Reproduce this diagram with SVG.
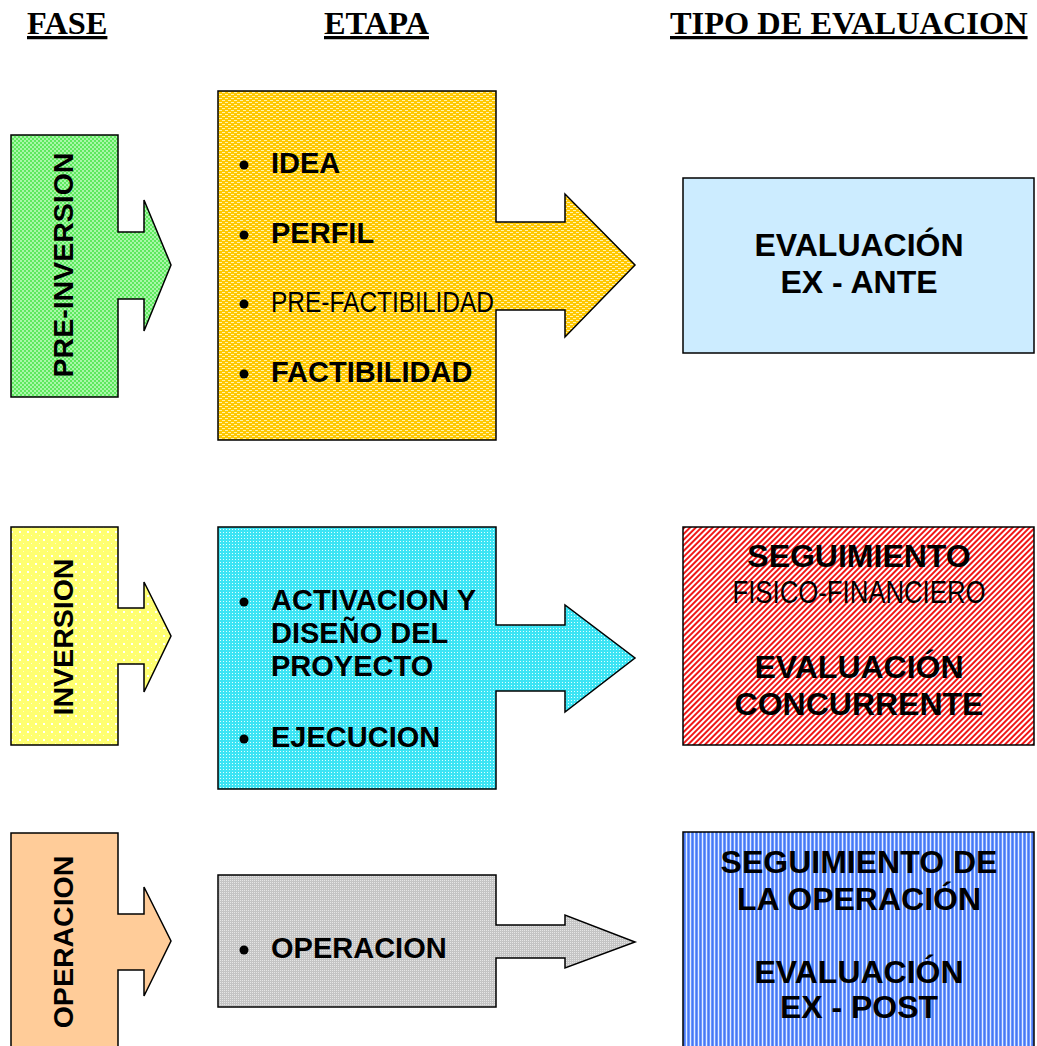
<svg xmlns="http://www.w3.org/2000/svg" width="1037" height="1046" viewBox="0 0 1037 1046">
<defs>
<pattern id="pGreen" width="4" height="4" patternUnits="userSpaceOnUse">
<rect width="4" height="4" fill="#5EE85E"/>
<rect width="2" height="2" fill="#A8F8A8"/>
<rect x="2" y="2" width="2" height="2" fill="#A8F8A8"/>
</pattern>
<pattern id="pOrange" width="6" height="4" patternUnits="userSpaceOnUse">
<rect width="6" height="4" fill="#FFC800"/>
<rect x="0" y="0" width="3" height="1" fill="#FFF2B0"/>
<rect x="3" y="2" width="3" height="1" fill="#FFF2B0"/>
</pattern>
<pattern id="pCyan" width="3" height="3" patternUnits="userSpaceOnUse">
<rect width="3" height="3" fill="#3CE4F4"/>
<rect x="1" y="1" width="1" height="1" fill="#E0FFFF"/>
</pattern>
<pattern id="pGray" width="2" height="2" patternUnits="userSpaceOnUse">
<rect width="2" height="2" fill="#C4C4C4"/>
<rect width="1" height="1" fill="#E6E6E6"/>
</pattern>
<pattern id="pYellow" width="8" height="8" patternUnits="userSpaceOnUse">
<rect width="8" height="8" fill="#FFFF70"/>
<rect x="3" y="3" width="2" height="2" fill="#FFFFFF"/>
<rect x="7" y="7" width="1" height="1" fill="#FFFFD0"/>
</pattern>
<pattern id="pRed" width="4" height="4" patternUnits="userSpaceOnUse" patternTransform="rotate(45)">
<rect width="4" height="4" fill="#FFFFFF"/>
<rect width="2" height="4" fill="#F01818"/>
</pattern>
<pattern id="pBlue" width="4" height="4" patternUnits="userSpaceOnUse">
<rect width="4" height="4" fill="#6A98FF"/>
<rect x="2" width="1" height="4" fill="#E6EEFF"/>
<rect x="0" width="1" height="4" fill="#4A78F0"/>
</pattern>
<style>
.sh{stroke:#000;stroke-width:1.5;stroke-linejoin:miter}
.hd{font-family:"Liberation Serif","Times New Roman",serif;font-weight:bold;font-size:32.4px;text-decoration:underline;fill:#000}
.b{font-family:"Liberation Sans",Arial,sans-serif;font-weight:bold;font-size:29px;fill:#000}
.r{font-family:"Liberation Sans",Arial,sans-serif;font-size:29px;fill:#000}
.bc{font-family:"Liberation Sans",Arial,sans-serif;font-weight:bold;font-size:32px;fill:#000;text-anchor:middle}
.rc{font-family:"Liberation Sans",Arial,sans-serif;font-size:31px;fill:#000;text-anchor:middle}
.vt{font-family:"Liberation Sans",Arial,sans-serif;font-weight:bold;font-size:28.5px;fill:#000;text-anchor:middle}
</style>
</defs>
<rect width="1037" height="1046" fill="#FFFFFF"/>

<g id="headers">
<text class="hd" x="27" y="34">FASE</text>
<text class="hd" x="324" y="34">ETAPA</text>
<text class="hd" x="670" y="34">TIPO DE EVALUACION</text>
</g>

<g id="connectors"></g>

<g id="fase-preinversion">
<polygon class="sh" fill="url(#pGreen)" points="11,135 118,135 118,232 144,232 144,200 171,265 144,331 144,299 118,299 118,397 11,397"/>
<text class="vt" transform="translate(73,265) rotate(-90)">PRE-INVERSION</text>
</g>

<g id="etapa-preinversion">
<polygon class="sh" fill="url(#pOrange)" points="218,91 496,91 496,222 565,222 565,194 635,265 565,337 565,310 496,310 496,440 218,440"/>
<circle cx="244" cy="165" r="4.5"/>
<text class="b" x="271" y="173">IDEA</text>
<circle cx="244" cy="235" r="4.5"/>
<text class="b" x="271" y="243">PERFIL</text>
<circle cx="244" cy="304" r="4.5"/>
<text class="r" x="271" y="312" textLength="223" lengthAdjust="spacingAndGlyphs">PRE-FACTIBILIDAD</text>
<circle cx="244" cy="374" r="4.5"/>
<text class="b" x="271" y="382">FACTIBILIDAD</text>
</g>

<g id="eval-exante">
<rect class="sh" x="683" y="178" width="351" height="175" fill="#CCECFF"/>
<text class="bc" x="859" y="256">EVALUACIÓN</text>
<text class="bc" x="859" y="293">EX - ANTE</text>
</g>

<g id="fase-inversion">
<polygon class="sh" fill="url(#pYellow)" points="11,527 118,527 118,608 144,608 144,582 171,636 144,692 144,664 118,664 118,745 11,745"/>
<text class="vt" transform="translate(73,637) rotate(-90)">INVERSION</text>
</g>

<g id="etapa-inversion">
<polygon class="sh" fill="url(#pCyan)" points="218,527 496,527 496,625 565,625 565,605 635,658 565,712 565,691 496,691 496,789 218,789"/>
<circle cx="244" cy="602" r="4.5"/>
<text class="b" x="271" y="610">ACTIVACION Y</text>
<text class="b" x="271" y="643">DISEÑO DEL</text>
<text class="b" x="271" y="676">PROYECTO</text>
<circle cx="244" cy="739" r="4.5"/>
<text class="b" x="271" y="747">EJECUCION</text>
</g>

<g id="eval-concurrente">
<rect class="sh" x="683" y="527" width="351" height="218" fill="url(#pRed)"/>
<text class="bc" x="859" y="567">SEGUIMIENTO</text>
<text class="rc" x="859" y="603" textLength="253" lengthAdjust="spacingAndGlyphs">FISICO-FINANCIERO</text>
<text class="bc" x="859" y="678">EVALUACIÓN</text>
<text class="bc" x="859" y="715">CONCURRENTE</text>
</g>

<g id="fase-operacion">
<polygon class="sh" fill="#FFCC99" points="11,833 118,833 118,914 144,914 144,887 171,941 144,996 144,970 118,970 118,1050 11,1050"/>
<text class="vt" transform="translate(73,942) rotate(-90)">OPERACION</text>
</g>

<g id="etapa-operacion">
<polygon class="sh" fill="url(#pGray)" points="218,875 496,875 496,925 565,925 565,915 635,942 565,968 565,958 496,958 496,1007 218,1007"/>
<circle cx="244" cy="950" r="4.5"/>
<text class="b" x="271" y="958">OPERACION</text>
</g>

<g id="eval-expost">
<rect class="sh" x="683" y="832" width="351" height="230" fill="url(#pBlue)"/>
<text class="bc" x="859" y="873">SEGUIMIENTO DE</text>
<text class="bc" x="859" y="910">LA OPERACIÓN</text>
<text class="bc" x="859" y="983">EVALUACIÓN</text>
<text class="bc" x="859" y="1018">EX - POST</text>
</g>
</svg>
